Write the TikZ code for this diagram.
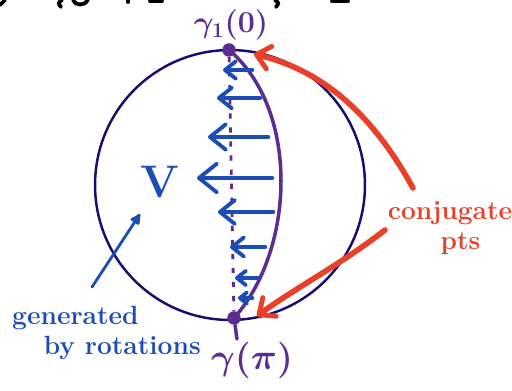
\documentclass[tikz,border=0pt]{standalone}
\usepackage{amsmath}
\usepackage{bm}
\usepackage{tikz}
\usetikzlibrary{arrows.meta,positioning}
\definecolor{rimNavy}{HTML}{1A0C6E}
\definecolor{geoPurple}{HTML}{5B2D91}
\definecolor{fieldBlue}{HTML}{1C4DB5}
\definecolor{markRed}{HTML}{E8402A}

\begin{document}
\begin{tikzpicture}[
  x=0.02cm, y=-0.02cm,
  every node/.style={align=center},
  rim/.style={draw=rimNavy,line width=1.4pt},
  geo/.style={draw=geoPurple,line width=2pt,line cap=round},
  dotted axis/.style={draw=geoPurple,line width=1.6pt,dash pattern=on 3pt off 5pt},
  endpt/.style={circle,fill=geoPurple,inner sep=0pt,minimum size=0.27cm},
  field/.style={draw=fieldBlue,line width=2.6pt,line cap=round},
  pointer/.style={-{Latex[length=2.6mm,width=2.6mm,round]},draw=fieldBlue,line width=1.6pt,line cap=round},
  conj/.style={-{Straight Barb[length=2.6mm,width=4.6mm,line width=2.8pt,round]},draw=markRed,line width=3.2pt,line cap=round},
  ink/.style={draw=black,line width=2.2pt,line cap=round},
  bluetext/.style={text=fieldBlue,font=\fontsize{15}{17}\selectfont\bfseries},
  redtext/.style={text=markRed,font=\fontsize{15}{17}\selectfont\bfseries}
]
\useasboundingbox (0,0) rectangle (512,391);

% cut-off strokes of the line above
\draw[ink] (0,5) -- (5,0);
\draw[ink] (62,0) .. controls (58,3) .. (61,7);
\draw[ink] (73,0) .. controls (75,6) and (85,6) .. (88,0);
\draw[ink] (128,0) -- (128,2);
\draw[ink] (150,1) -- (162,1);
\draw[ink] (275,0) .. controls (279,3) .. (276,7);
\draw[ink] (332,1) -- (348,1);

% disc
\node[circle,minimum size=5.4cm,inner sep=0pt,rim] (disc) at (230,185) {};

% end points and labels
\node[endpt] (g0) at (229,50) {};
\node[endpt] (gpi) at (234,318) {};
\node[text=geoPurple,font=\fontsize{17}{17}\selectfont\bfseries] (g0lab) at (231,25) {$\bm{\gamma_{1}(0)}$};
\node[text=geoPurple,font=\fontsize{21}{21}\selectfont\bfseries] (gpilab) at (252,360) {$\bm{\gamma(\pi)}$};
\coordinate (tick) at (237,339);
\draw[geo] (gpi) -- (tick);

% geodesic and its rotated copy
\draw[dotted axis] (g0) -- (gpi);
\draw[geo] (g0.center) .. controls (300,110) and (295,250) .. (gpi.center);

% Jacobi field arrows
\foreach \y/\xa/\xb/\hl in {70/252/223/2.2,98/260/217/2.6,137/268/208/3.2,178/272/197/3.6,212/273/218/3.0,247/265/230/2.4,278/258/235/1.8,298/252/238/1.4}{
  \coordinate (fs\y) at (\xa,\y);
  \coordinate (ft\y) at (\xb,\y);
  \draw[field,-{Straight Barb[length=\hl mm,width=1.6*\hl mm,line width=2.2pt,round]}] (fs\y) -- (ft\y);
}

% the space V
\node[text=fieldBlue,font=\fontsize{26}{26}\selectfont\bfseries] (V) at (160,182) {V};
\node[bluetext,anchor=north west,align=left] (gen) at (6,300) {generated\\\hspace*{1.2em}by rotations};
\coordinate (genfoot) at (92,287);
\coordinate (vtip) at (140,214);
\draw[pointer] (genfoot) -- (vtip);

% conjugate points
\node[redtext] (cp) at (450,228) {conjugate\\\hspace*{0.8em}pts};
\coordinate (cpup) at (413,188);
\coordinate (cpdown) at (385,230);
\coordinate (hitup) at (254,54);
\coordinate (hitdown) at (257,316);
\draw[conj] (cpup) .. controls (370,110) and (320,70) .. (hitup);
\draw[conj] (cpdown) .. controls (340,265) and (300,285) .. (hitdown);
\end{tikzpicture}
\end{document}
